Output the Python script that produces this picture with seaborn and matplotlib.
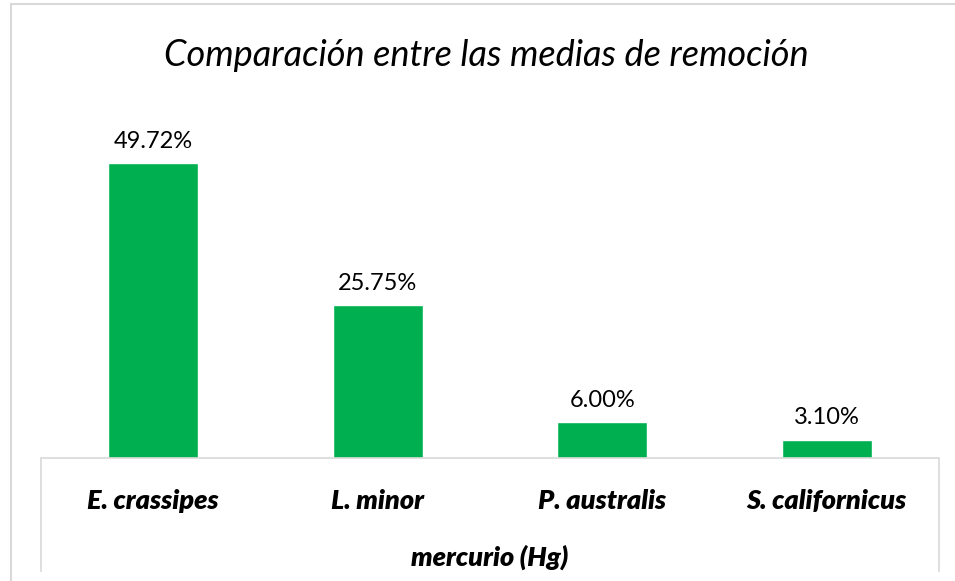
import pandas as pd
import seaborn as sns
import matplotlib.pyplot as plt
from matplotlib.patches import Rectangle

# datos
especies = ['E. crassipes', 'L. minor', 'P. australis', 'S. californicus']
remocion = [49.72, 25.75, 6.00, 3.10]
etiquetas = ['49.72%', '25.75%', '6.00%', '3.10%']

df = pd.DataFrame({'especie': especies, 'remocion': remocion})

sns.set_style('white')
plt.rcParams['font.family'] = ['Lato', 'DejaVu Sans']
plt.rcParams['text.color'] = 'black'
plt.rcParams['xtick.color'] = 'black'
plt.rcParams['axes.labelcolor'] = 'black'

fig = plt.figure(figsize=(9.55, 5.81), dpi=100)
ax = fig.add_axes([41 / 955, 123 / 581, 898 / 955, 356 / 581])

sns.barplot(data=df, x='especie', y='remocion', color='#00B050',
            width=0.4, saturation=1, ax=ax)

for i, txt in enumerate(etiquetas):
    ax.annotate(txt, (i, remocion[i]), xytext=(0, 8), textcoords='offset points',
                ha='center', va='bottom', fontsize=17)

ax.set_ylim(0, 60)
ax.set_xlim(-0.5, 3.5)
ax.set_yticks([])
ax.set_ylabel('')

for s in ['top', 'left', 'right']:
    ax.spines[s].set_visible(False)
ax.spines['bottom'].set_color('#D9D9D9')
ax.spines['bottom'].set_linewidth(1.2)

ax.tick_params(axis='x', which='major', length=0, pad=31, labelsize=19.5)
for lbl in ax.get_xticklabels():
    lbl.set_fontweight('heavy')
    lbl.set_fontstyle('italic')
    lbl.set_verticalalignment('center')

# líneas verticales de los bordes del eje
ax.set_xticks([-0.5, 3.5], minor=True)
ax.tick_params(axis='x', which='minor', bottom=True, length=82, width=1.2,
               color='#D9D9D9', direction='out')

ax.set_xlabel('mercurio (Hg)', fontsize=19.5, fontweight='heavy', fontstyle='italic',
              va='center')
ax.xaxis.set_label_coords(0.5, (458 - 557) / 356)

fig.text(0.509, 1 - 55 / 581, 'Comparación entre las medias de remoción',
         ha='center', va='center', fontsize=26, fontstyle='italic')

# borde del gráfico
fig.patches.append(Rectangle((11 / 955, -0.1), 1.0, 1.1 - 4 / 581,
                             transform=fig.transFigure, fill=False,
                             edgecolor='#D9D9D9', linewidth=1.5))

fig.savefig('out.png', dpi=100)
